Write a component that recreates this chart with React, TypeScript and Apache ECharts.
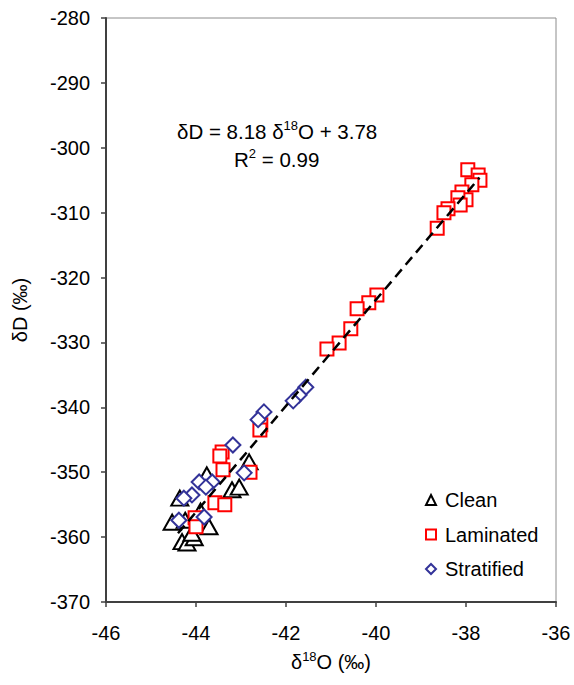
import React, { useEffect, useRef } from "react";
import * as echarts from "echarts";

const FONT = "'Liberation Sans', Arial, sans-serif";

const xTicks = [-46, -36];
const yTicks = [-370, -280];

const cleanPoints: number[][] = [
  [-42.82, -348.4], [-43.76, -350.4], [-43.2, -352.7], [-43.04, -352.3],
  [-44.36, -354.0], [-44.53, -357.7], [-44.24, -357.4], [-43.71, -358.4],
  [-44.31, -360.7], [-44.2, -360.9], [-44.04, -360.1], [-44.09, -359.4],
  [-43.9, -356.0],
];

const laminatedPoints: number[][] = [
  [-37.96, -303.4], [-37.73, -304.2], [-37.69, -305.0], [-37.87, -305.7],
  [-38.09, -306.8], [-38.0, -308.0], [-38.18, -307.7], [-38.13, -308.8],
  [-38.4, -309.4], [-38.49, -310.0], [-38.64, -312.4],
  [-39.98, -322.7], [-40.16, -323.9], [-40.42, -324.8], [-40.56, -327.9],
  [-40.82, -330.1], [-41.09, -331.0],
  [-42.56, -342.7], [-42.58, -343.5], [-43.42, -346.9], [-43.47, -347.5],
  [-43.4, -349.6], [-42.8, -350.0], [-43.58, -354.7], [-43.36, -355.0],
  [-44.02, -357.0], [-44.0, -358.4],
];

const stratifiedPoints: number[][] = [
  [-41.56, -336.9], [-41.71, -338.1], [-41.84, -339.0], [-42.49, -340.7],
  [-42.62, -341.9], [-43.18, -345.8], [-42.93, -350.1], [-43.64, -351.5],
  [-43.93, -351.5], [-43.78, -352.3], [-44.09, -353.5], [-44.27, -354.0],
  [-43.82, -356.9], [-44.38, -357.4],
];

// regression shown on the chart: dD = 8.18 d18O + 3.78
const slope = 8.18;
const intercept = 3.78;
const trendX = [-44.4, -37.7];

export default function App() {
  const ref = useRef<HTMLDivElement>(null);
  useEffect(() => {
    if (!ref.current) return;
    const chart = echarts.init(ref.current, null, { renderer: "svg" });
    const trendData = trendX.map((x) => [x, slope * x + intercept]);
    const textStyleBase = { fontFamily: FONT, color: "#000" };
    chart.setOption({
      animation: false,
      textStyle: textStyleBase,
      grid: {
        left: 106,
        right: 18,
        top: 18,
        bottom: 83,
        show: true,
        borderColor: "#8c8c8c",
        borderWidth: 1,
        backgroundColor: "transparent",
      },
      xAxis: {
        type: "value",
        min: xTicks[0],
        max: xTicks[1],
        interval: 2,
        splitLine: { show: false },
        axisLine: { show: true, onZero: false, lineStyle: { color: "#404040", width: 2 } },
        axisTick: { show: true, inside: false, length: 5, lineStyle: { color: "#404040", width: 1.5 } },
        axisLabel: { fontSize: 20, color: "#000", fontFamily: FONT, margin: 21 },
        name: "{a|δ}{sup|18}{a|O (‰)}",
        nameLocation: "middle",
        nameGap: 48,
        nameTextStyle: {
          fontFamily: FONT,
          rich: {
            a: { fontSize: 20, fontFamily: FONT, color: "#000", lineHeight: 24 },
            sup: { fontSize: 13, fontFamily: FONT, color: "#000", lineHeight: 14, verticalAlign: "top" },
          },
        },
      },
      yAxis: {
        type: "value",
        min: yTicks[0],
        max: yTicks[1],
        interval: 10,
        splitLine: { show: false },
        axisLine: { show: true, onZero: false, lineStyle: { color: "#404040", width: 2 } },
        axisTick: { show: true, inside: false, length: 5, lineStyle: { color: "#404040", width: 1.5 } },
        axisLabel: { fontSize: 20, color: "#000", fontFamily: FONT, margin: 16 },
        name: "δD (‰)",
        nameLocation: "middle",
        nameGap: 76,
        nameTextStyle: { fontSize: 20, fontFamily: FONT, color: "#000" },
      },
      legend: {
        orient: "vertical",
        left: 420,
        top: 485,
        itemWidth: 10,
        itemHeight: 10,
        itemGap: 14.5,
        textStyle: { fontSize: 20, fontFamily: FONT, color: "#000", lineHeight: 20, padding: [0, 0, 0, 4] },
        data: ["Clean", "Laminated", "Stratified"],
      },
      graphic: [
        {
          type: "text",
          left: 177,
          top: 119,
          style: {
            text: "{a|δD = 8.18 δ}{sup|18}{a|O + 3.78}",
            rich: {
              a: { fontSize: 20.5, fontFamily: FONT, fill: "#000", lineHeight: 24 },
              sup: { fontSize: 13, fontFamily: FONT, fill: "#000", lineHeight: 14, verticalAlign: "top" },
            },
          },
        },
        {
          type: "text",
          left: 234,
          top: 147,
          style: {
            text: "{a|R}{sup|2}{a| = 0.99}",
            rich: {
              a: { fontSize: 20.5, fontFamily: FONT, fill: "#000", lineHeight: 24 },
              sup: { fontSize: 13, fontFamily: FONT, fill: "#000", lineHeight: 14, verticalAlign: "top" },
            },
          },
        },
      ],
      series: [
        {
          name: "Clean",
          type: "scatter",
          symbol: "triangle",
          symbolSize: [17, 15],
          data: cleanPoints,
          itemStyle: { color: "#fff", borderColor: "#000", borderWidth: 2, opacity: 1 },
          z: 2,
        },
        {
          name: "Laminated",
          type: "scatter",
          symbol: "rect",
          symbolSize: 13,
          data: laminatedPoints,
          itemStyle: { color: "#fff", borderColor: "#ff0000", borderWidth: 2, opacity: 1 },
          z: 3,
        },
        {
          name: "Stratified",
          type: "scatter",
          symbol: "diamond",
          symbolSize: 15,
          data: stratifiedPoints,
          itemStyle: { color: "#fff", borderColor: "#333399", borderWidth: 2, opacity: 1 },
          z: 4,
        },
        {
          name: "trend",
          type: "line",
          data: trendData,
          symbol: "none",
          silent: true,
          lineStyle: { color: "#000", width: 2.5, type: [10, 6] },
          z: 5,
        },
      ],
    });
    return () => chart.dispose();
  }, []);
  return (
    <div
      ref={ref}
      style={{ position: "fixed", left: 0, top: 0, width: 574, height: 685, background: "#fff" }}
    />
  );
}
